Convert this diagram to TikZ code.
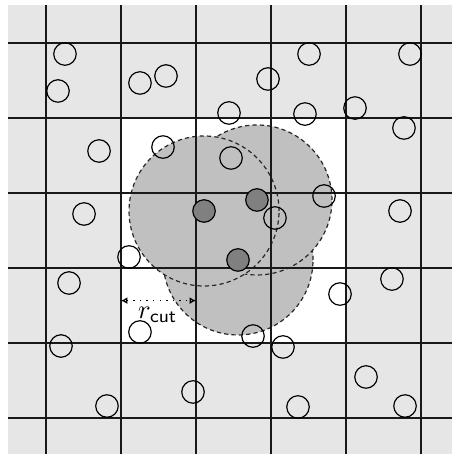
\documentclass[tikz,border=0pt]{standalone}
\usetikzlibrary{arrows.meta}
\definecolor{cellgray}{HTML}{E6E6E6}
\definecolor{cutgray}{HTML}{C0C0C0}
\definecolor{partgray}{HTML}{808080}
\newcommand{\PartR}{0.15}
\newcommand{\CutR}{1.0}

\begin{document}
\begin{tikzpicture}[line width=0.5pt,
    gridline/.style={draw=black!90, line width=0.45pt},
    part/.style={draw=black, line width=0.45pt},
    home/.style={draw=black, fill=partgray, line width=0.45pt},
    cutoff/.style={draw=black!85, fill=cutgray, dash pattern=on 1.6pt off 1.2pt, line width=0.45pt},
    measure/.style={{Latex[open,length=2.4pt,width=2.6pt]}-{Latex[open,length=2.4pt,width=2.6pt]}, dotted, line width=0.5pt},
  ]
% --- Background ---------------------------------------------------------------
\useasboundingbox (-0.6133,-0.48) rectangle (5.4133,5.5733);
\fill[cellgray] (-0.5067,-0.48) rectangle (5.4133,5.5067);
\fill[white] (1,1) rectangle (4,4);

% --- Cutoff spheres (C, B, A) ---------------------------------------------------
\coordinate (pa) at (2.107,2.760);
\coordinate (pb) at (2.813,2.907);
\coordinate (pc) at (2.560,2.107);
\foreach \p in {pc,pb,pa}
  \draw[cutoff] (\p) circle (\CutR);

% --- Cells ------------------------------------------------------------------------
\foreach \i in {0,...,5} {
  \draw[gridline] (\i,-0.48) -- (\i,5.5067);
  \draw[gridline] (-0.5067,\i) -- (5.4133,\i);
}

% --- Particles --------------------------------------------------------------------
\foreach \x/\y in {0.253/4.853, 0.160/4.360, 1.253/4.467, 1.600/4.560, 0.707/3.560,
    1.560/3.613, 0.507/2.720, 2.440/4.067, 2.467/3.467, 3.507/4.853, 2.960/4.520,
    3.453/4.053, 4.120/4.133, 4.853/4.853, 4.773/3.867, 3.707/2.960, 3.053/2.667,
    4.720/2.760, 1.107/2.147, 0.307/1.800, 1.253/1.147, 0.200/0.960, 0.813/0.160,
    1.960/0.347, 4.613/1.853, 3.920/1.653, 2.760/1.093, 3.160/0.947, 4.267/0.547,
    3.360/0.147, 4.787/0.160}
  \draw[part] (\x,\y) circle (\PartR);
\foreach \p in {pa,pb,pc}
  \draw[home] (\p) circle (\PartR);

% --- Cutoff radius ------------------------------------------------------------------
\coordinate (cutL) at (1,1.565);
\coordinate (cutR) at (2,1.565);
\draw[measure] (cutL) -- (cutR);
\node[inner sep=0pt] (rcut) at (1.49,1.37) {$r_{\mathsf{cut}}$};
\end{tikzpicture}
\end{document}
